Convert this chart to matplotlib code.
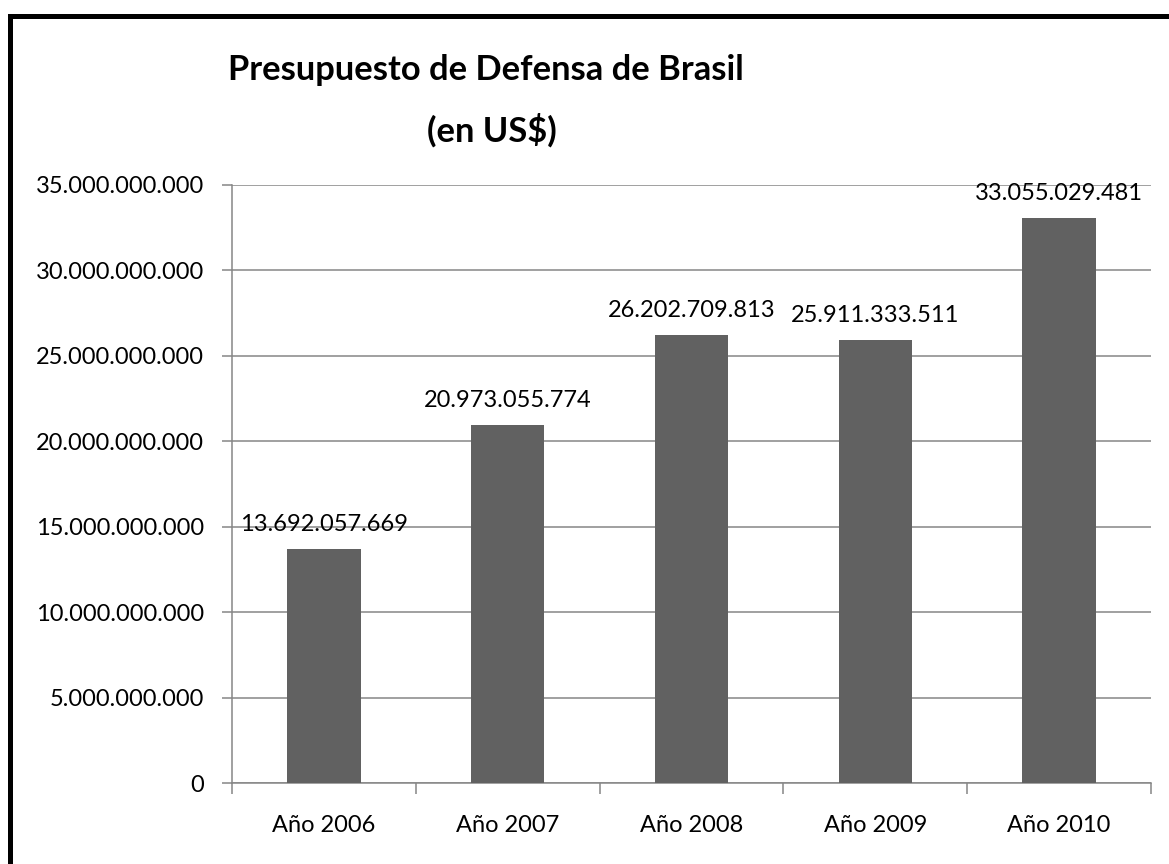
import matplotlib
matplotlib.use("Agg")
import matplotlib.pyplot as plt
from matplotlib.patches import Rectangle
from matplotlib.ticker import FuncFormatter, MultipleLocator, FixedLocator

categories = ["Año 2006", "Año 2007", "Año 2008", "Año 2009", "Año 2010"]
values = [13692057669, 20973055774, 26202709813, 25911333511, 33055029481]
title_lines = ["Presupuesto de Defensa de Brasil", "(en US$)"]

plt.rcParams['font.family'] = ['Lato', 'DejaVu Sans']

W, H = 1169, 864
fig = plt.figure(figsize=(W / 100, H / 100), dpi=100)
fig.patch.set_facecolor('white')

# outer border
fig.patches.append(Rectangle((10 / W, -0.05), 1.2, (H - 15.5) / H + 0.05,
                             transform=fig.transFigure, fill=False,
                             edgecolor='black', linewidth=3.6, zorder=10))

ax = fig.add_axes([232 / W, (H - 783) / H, (1151 - 232) / W, (783 - 185) / H])

def fmt(v):
    return f"{int(round(v)):,}".replace(",", ".")

x = list(range(len(categories)))
ax.bar(x, values, width=0.40, color='#616161', zorder=3)
for xi, v in zip(x, values):
    ax.annotate(fmt(v), (xi, v), xytext=(0, 10), textcoords='offset points',
                ha='center', va='bottom', fontsize=17, color='black')

ax.set_xlim(-0.5, len(categories) - 0.5)
ax.set_ylim(0, 35e9)
ax.yaxis.set_major_locator(MultipleLocator(5e9))
ax.yaxis.set_major_formatter(FuncFormatter(lambda v, p: fmt(v)))
ax.grid(axis='y', color='#868686', linewidth=1.1, zorder=0)

ax.set_xticks(x)
ax.set_xticklabels(categories)
ax.xaxis.set_minor_locator(FixedLocator([i - 0.5 for i in range(len(categories) + 1)]))
ax.tick_params(axis='x', which='major', length=0, pad=23, labelsize=17)
ax.tick_params(axis='x', which='minor', length=8, width=1.1, color='#868686', direction='out')
ax.tick_params(axis='y', length=7, width=1.1, color='#868686', direction='out', pad=13, labelsize=17)

for s in ['top', 'right']:
    ax.spines[s].set_visible(False)
for s in ['left', 'bottom']:
    ax.spines[s].set_color('#868686')
    ax.spines[s].set_linewidth(1.1)

fig.text(486 / W, 1 - 70 / H, title_lines[0], ha='center', va='center',
         fontsize=24.8, fontweight='bold')
fig.text(492 / W, 1 - 130 / H, title_lines[1], ha='center', va='center',
         fontsize=24.8, fontweight='bold')

fig.savefig("out.png", dpi=100)
